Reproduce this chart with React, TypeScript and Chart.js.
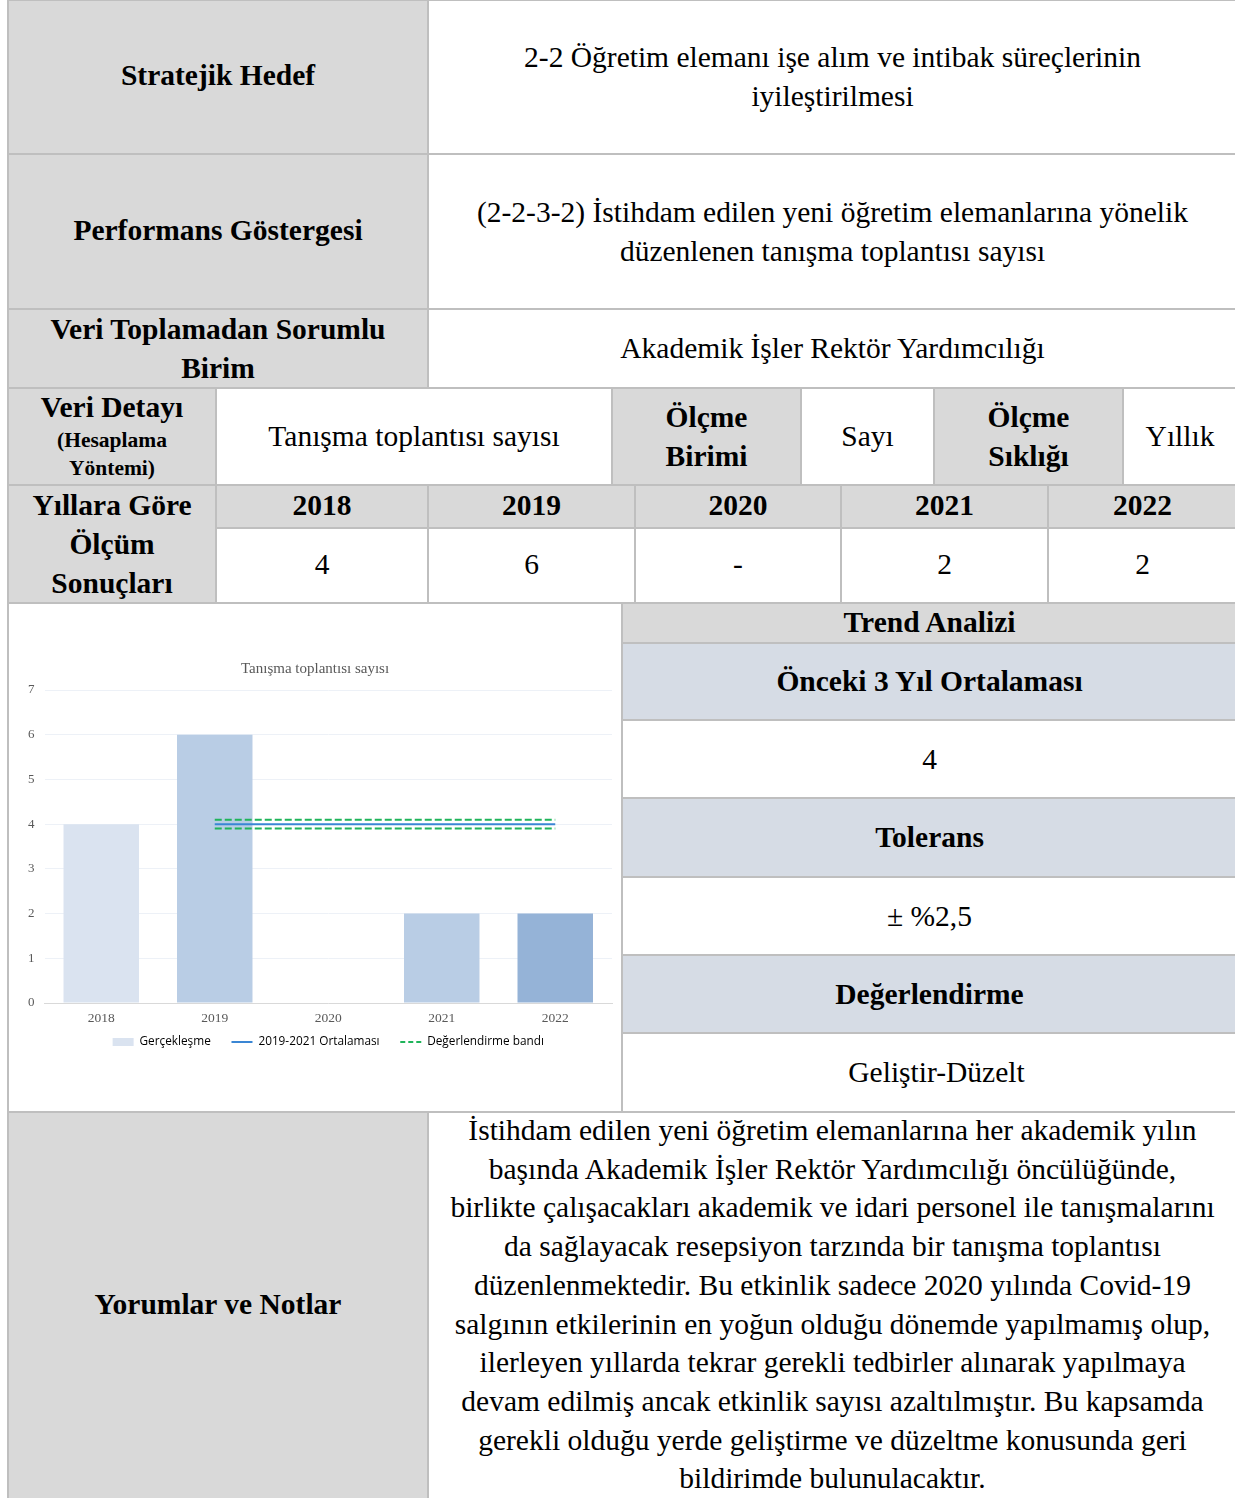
import React, { useEffect, useRef } from "react";
import { Chart, registerables } from "chart.js";

Chart.register(...registerables);

// ---- Chart data ----
const years = ["2018", "2019", "2020", "2021", "2022"];
const actual: (number | null)[] = [4, 6, null, 2, 2];
const average: (number | null)[] = [null, 4, 4, 4, 4];
const bandUpper: (number | null)[] = [null, 4.1, 4.1, 4.1, 4.1];
const bandLower: (number | null)[] = [null, 3.9, 3.9, 3.9, 3.9];
const barColors = ["#dae3f0", "#b9cde5", "#b9cde5", "#b9cde5", "#95b3d7"];
const seriesNames = ["Gerçekleşme", "2019-2021 Ortalaması", "Değerlendirme bandı"];
const chartTitle = "Tanışma toplantısı sayısı";

// ---- Table data ----
const tableValues = ["4", "6", "-", "2", "2"];
const commentLines = [
  "İstihdam edilen yeni öğretim elemanlarına her akademik yılın",
  "başında Akademik İşler Rektör Yardımcılığı öncülüğünde,",
  "birlikte çalışacakları akademik ve idari personel ile tanışmalarını",
  "da sağlayacak resepsiyon tarzında bir tanışma toplantısı",
  "düzenlenmektedir. Bu etkinlik sadece 2020 yılında Covid-19",
  "salgının etkilerinin en yoğun olduğu dönemde yapılmamış olup,",
  "ilerleyen yıllarda tekrar gerekli tedbirler alınarak yapılmaya",
  "devam edilmiş ancak etkinlik sayısı azaltılmıştır. Bu kapsamda",
  "gerekli olduğu yerde geliştirme ve düzeltme konusunda geri",
  "bildirimde bulunulacaktır.",
];

const GRAY = "#d9d9d9";
const BLUE = "#d6dce5";
const WHITE = "#ffffff";
const BORDER = "#bfbfbf";
const AVG_COLOR = "#3a86d4";
const BAND_COLOR = "#1fb45a";
const GAP = "\u2003\u2002";

type CellProps = {
  x0: number; y0: number; x1: number; y1: number;
  bg: string; bold?: boolean; children?: React.ReactNode; style?: React.CSSProperties;
};

function Cell({ x0, y0, x1, y1, bg, bold, children, style }: CellProps) {
  return (
    <div
      style={{
        position: "absolute",
        left: x0 - 1,
        top: y0 - 1,
        width: x1 - x0 + 2,
        height: y1 - y0 + 2,
        boxSizing: "border-box",
        border: `2px solid ${BORDER}`,
        background: bg,
        display: "flex",
        flexDirection: "column",
        alignItems: "center",
        justifyContent: "center",
        textAlign: "center",
        fontWeight: bold ? "bold" : "normal",
        ...style,
      }}
    >
      {children}
    </div>
  );
}

function ChartBox() {
  const ref = useRef<HTMLCanvasElement | null>(null);
  useEffect(() => {
    if (!ref.current) return;
    const chart = new Chart(ref.current, {
      type: "bar",
      data: {
        labels: years,
        datasets: [
          {
            type: "bar",
            label: seriesNames[0],
            data: actual,
            backgroundColor: barColors,
            borderWidth: 0,
            categoryPercentage: 1,
            barPercentage: 0.665,
            order: 3,
          },
          {
            type: "line",
            label: seriesNames[1],
            data: average,
            borderColor: AVG_COLOR,
            borderWidth: 2,
            pointRadius: 0,
            fill: false,
            order: 2,
          },
          {
            type: "line",
            label: seriesNames[2],
            data: bandUpper,
            borderColor: BAND_COLOR,
            borderWidth: 2,
            borderDash: [7, 3],
            pointRadius: 0,
            fill: false,
            order: 1,
          },
          {
            type: "line",
            label: seriesNames[2] + " alt",
            data: bandLower,
            borderColor: BAND_COLOR,
            borderWidth: 2,
            borderDash: [7, 3],
            pointRadius: 0,
            fill: false,
            order: 1,
          },
        ] as any,
      },
      options: {
        responsive: false,
        animation: false,
        layout: { padding: { top: 55, left: 8, right: 8, bottom: 52 } },
        plugins: {
          tooltip: { enabled: false },
          title: {
            display: true,
            text: chartTitle,
            color: "#595959",
            font: { family: "'Liberation Serif', serif", size: 15, weight: "normal" },
            padding: { top: 0, bottom: 12 },
          },
          legend: {
            position: "bottom",
            fullSize: false,
            labels: {
              usePointStyle: true,
              pointStyleWidth: 21,
              boxHeight: 8,
              padding: 3,
              color: "#595959",
              font: { family: "'Open Sans', sans-serif", size: 11.8 },
              generateLabels: () => [
                {
                  text: seriesNames[0] + GAP, fillStyle: barColors[0], strokeStyle: barColors[0],
                  lineWidth: 0, pointStyle: "rect", datasetIndex: 0, hidden: false,
                },
                {
                  text: seriesNames[1] + GAP, fillStyle: AVG_COLOR, strokeStyle: AVG_COLOR,
                  lineWidth: 2, pointStyle: "line", datasetIndex: 1, hidden: false,
                },
                {
                  text: seriesNames[2], fillStyle: BAND_COLOR, strokeStyle: BAND_COLOR,
                  lineWidth: 2, lineDash: [5, 3], pointStyle: "line", datasetIndex: 2, hidden: false,
                },
              ] as any,
            },
          },
        },
        scales: {
          x: {
            grid: { display: false, drawTicks: false },
            border: { display: true, color: "#d9d9d9", width: 1 },
            ticks: {
              color: "#595959",
              padding: 7,
              font: { family: "'Liberation Serif', serif", size: 13.5 },
            },
          },
          y: {
            min: 0,
            max: 7,
            grid: { color: "#edf1f7", drawTicks: false },
            border: { display: false },
            ticks: {
              stepSize: 1,
              color: "#595959",
              padding: 10,
              font: { family: "'Liberation Serif', serif", size: 13 },
            },
          },
        },
      } as any,
    });
    return () => chart.destroy();
  }, []);
  return (
    <canvas
      ref={ref}
      width={610}
      height={505}
      style={{ position: "absolute", left: 10, top: 605, width: 610, height: 505 }}
    />
  );
}

const SMALL: React.CSSProperties = { fontSize: 21.5, lineHeight: "28px" };

export default function App() {
  const yearCols = [216, 428, 635, 841, 1048, 1237];
  return (
    <div
      style={{
        position: "absolute",
        left: 0,
        top: 0,
        width: 1235,
        height: 1498,
        overflow: "hidden",
        background: "#fff",
        fontFamily: "'Liberation Serif', 'Times New Roman', serif",
        fontSize: 29.5,
        lineHeight: "39px",
        color: "#000",
      }}
    >
      {/* Row 1 */}
      <Cell x0={8} y0={0} x1={428} y1={154} bg={GRAY} bold style={{ paddingBottom: 3 }}>Stratejik Hedef</Cell>
      <Cell x0={428} y0={0} x1={1237} y1={154} bg={WHITE}>
        <div>2-2 Öğretim elemanı işe alım ve intibak süreçlerinin</div>
        <div>iyileştirilmesi</div>
      </Cell>
      {/* Row 2 */}
      <Cell x0={8} y0={154} x1={428} y1={309} bg={GRAY} bold style={{ paddingBottom: 2 }}>Performans Göstergesi</Cell>
      <Cell x0={428} y0={154} x1={1237} y1={309} bg={WHITE}>
        <div>(2-2-3-2) İstihdam edilen yeni öğretim elemanlarına yönelik</div>
        <div>düzenlenen tanışma toplantısı sayısı</div>
      </Cell>
      {/* Row 3 */}
      <Cell x0={8} y0={309} x1={428} y1={388} bg={GRAY} bold>
        <div>Veri Toplamadan Sorumlu</div>
        <div>Birim</div>
      </Cell>
      <Cell x0={428} y0={309} x1={1237} y1={388} bg={WHITE}>Akademik İşler Rektör Yardımcılığı</Cell>
      {/* Row 4 */}
      <Cell x0={8} y0={388} x1={216} y1={485} bg={GRAY} bold style={{ paddingBottom: 2 }}>
        <div style={{ lineHeight: "37px" }}>Veri Detayı</div>
        <div style={SMALL}>(Hesaplama</div>
        <div style={SMALL}>Yöntemi)</div>
      </Cell>
      <Cell x0={216} y0={388} x1={612} y1={485} bg={WHITE}>Tanışma toplantısı sayısı</Cell>
      <Cell x0={612} y0={388} x1={801} y1={485} bg={GRAY} bold>
        <div>Ölçme</div>
        <div>Birimi</div>
      </Cell>
      <Cell x0={801} y0={388} x1={934} y1={485} bg={WHITE}>Sayı</Cell>
      <Cell x0={934} y0={388} x1={1123} y1={485} bg={GRAY} bold>
        <div>Ölçme</div>
        <div>Sıklığı</div>
      </Cell>
      <Cell x0={1123} y0={388} x1={1237} y1={485} bg={WHITE}>Yıllık</Cell>
      {/* Years */}
      <Cell x0={8} y0={485} x1={216} y1={603} bg={GRAY} bold>
        <div>Yıllara Göre</div>
        <div>Ölçüm</div>
        <div>Sonuçları</div>
      </Cell>
      {years.map((yr, i) => (
        <Cell key={"h" + yr} x0={yearCols[i]} y0={485} x1={yearCols[i + 1]} y1={528} bg={GRAY} bold style={{ paddingBottom: 2 }}>
          {yr}
        </Cell>
      ))}
      {tableValues.map((v, i) => (
        <Cell key={"v" + i} x0={yearCols[i]} y0={528} x1={yearCols[i + 1]} y1={603} bg={WHITE} style={{ paddingBottom: 2 }}>
          {v}
        </Cell>
      ))}
      {/* Chart cell */}
      <Cell x0={8} y0={603} x1={622} y1={1112} bg={WHITE} />
      <ChartBox />
      {/* Trend analysis */}
      <Cell x0={622} y0={603} x1={1237} y1={643} bg={GRAY} bold style={{ paddingBottom: 2 }}>Trend Analizi</Cell>
      <Cell x0={622} y0={643} x1={1237} y1={720} bg={BLUE} bold>Önceki 3 Yıl Ortalaması</Cell>
      <Cell x0={622} y0={720} x1={1237} y1={798} bg={WHITE}>4</Cell>
      <Cell x0={622} y0={798} x1={1237} y1={877} bg={BLUE} bold>Tolerans</Cell>
      <Cell x0={622} y0={877} x1={1237} y1={955} bg={WHITE}>± %2,5</Cell>
      <Cell x0={622} y0={955} x1={1237} y1={1033} bg={BLUE} bold>Değerlendirme</Cell>
      <Cell x0={622} y0={1033} x1={1237} y1={1112} bg={WHITE} style={{ paddingLeft: 14 }}>Geliştir-Düzelt</Cell>
      {/* Comments */}
      <Cell x0={8} y0={1112} x1={428} y1={1500} bg={GRAY} bold style={{ paddingBottom: 4 }}>Yorumlar ve Notlar</Cell>
      <Cell x0={428} y0={1112} x1={1237} y1={1500} bg={WHITE} style={{ justifyContent: "flex-start", lineHeight: "38.7px" }}>
        <div style={{ position: "relative", top: -2 }}>
          {commentLines.map((l, i) => (
            <div key={i} style={{ whiteSpace: "nowrap" }}>{l}</div>
          ))}
        </div>
      </Cell>
    </div>
  );
}
